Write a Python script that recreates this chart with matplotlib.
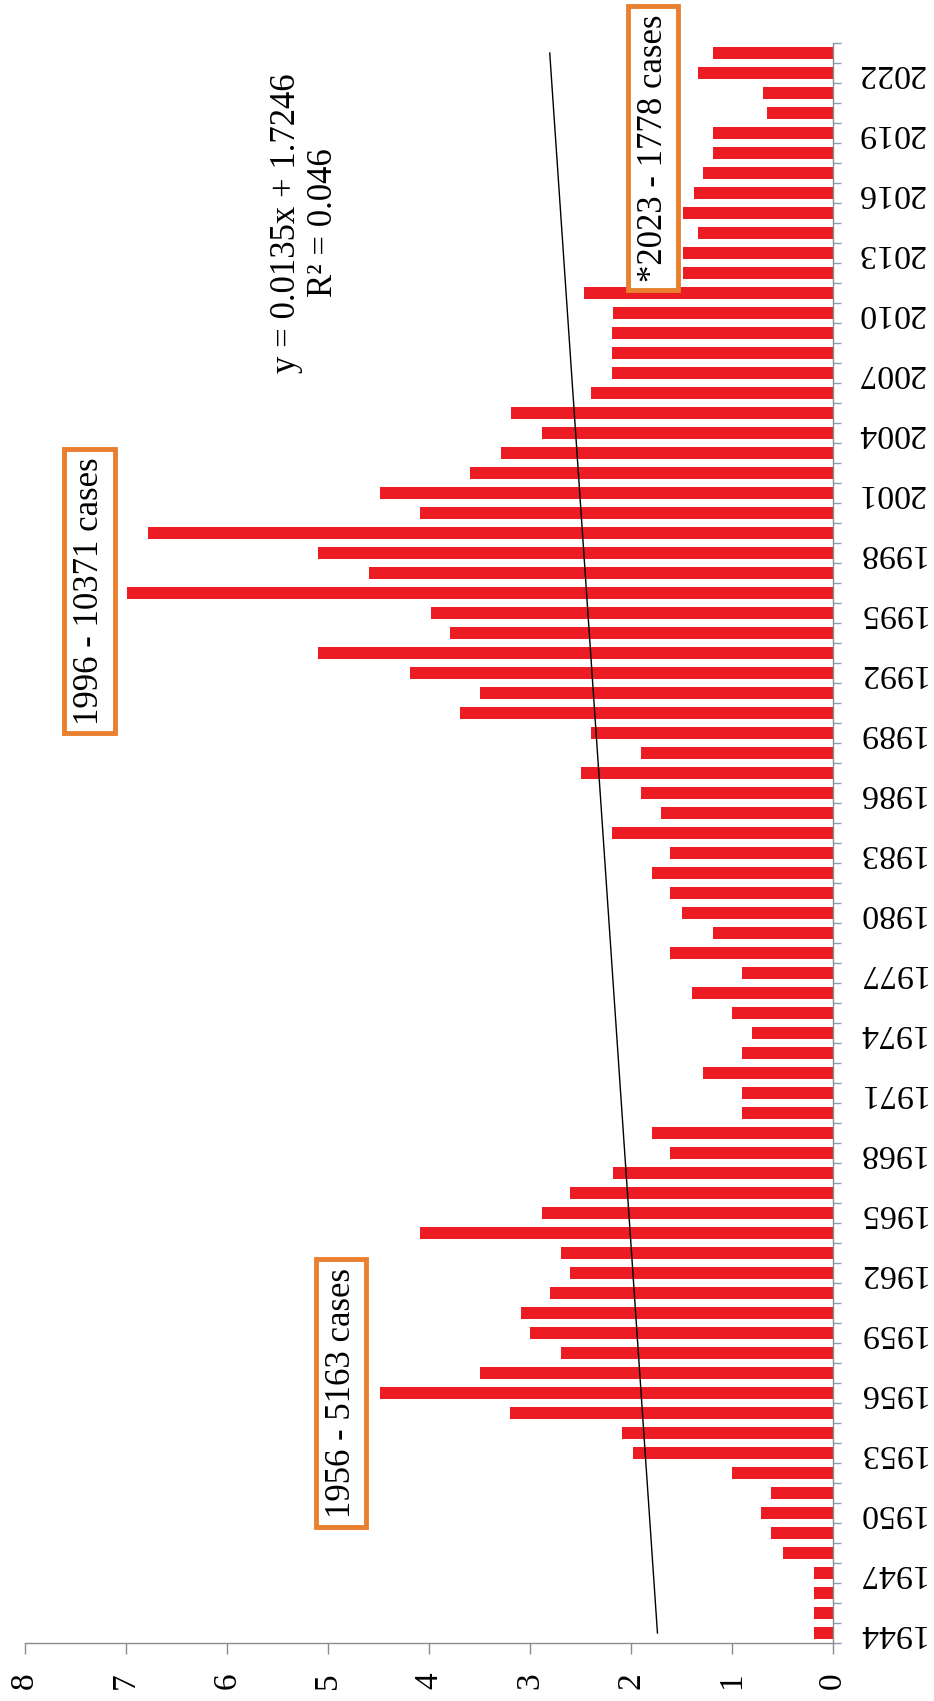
import matplotlib
matplotlib.use("Agg")
import matplotlib.pyplot as plt
from matplotlib import font_manager
from matplotlib.font_manager import FontProperties
import numpy as np

plt.rcParams['font.family'] = ['Liberation Serif', 'DejaVu Serif']
try:
    SERIF_PATH = font_manager.findfont(FontProperties(family='Liberation Serif'),
                                       fallback_to_default=False)
except Exception:
    SERIF_PATH = None


def fprop(size):
    if SERIF_PATH:
        return FontProperties(fname=SERIF_PATH, size=size)
    return FontProperties(family='serif', size=size)


# ---- data ----
years = list(range(1944, 2024))
values = [0.19, 0.19, 0.19, 0.19, 0.50, 0.61, 0.71, 0.61, 1.00, 1.98,
          2.09, 3.20, 4.49, 3.50, 2.69, 3.00, 3.09, 2.80, 2.60, 2.69,
          4.09, 2.88, 2.60, 2.18, 1.61, 1.79, 0.90, 0.90, 1.29, 0.90,
          0.80, 1.00, 1.40, 0.90, 1.61, 1.19, 1.50, 1.61, 1.79, 1.61,
          2.19, 1.70, 1.90, 2.50, 1.90, 2.40, 3.69, 3.50, 4.19, 5.10,
          3.79, 3.98, 6.99, 4.59, 5.10, 6.78, 4.09, 4.49, 3.59, 3.29,
          2.88, 3.19, 2.40, 2.19, 2.19, 2.19, 2.18, 2.47, 1.49, 1.49,
          1.34, 1.49, 1.38, 1.29, 1.19, 1.19, 0.65, 0.69, 1.34, 1.19]
label_years = list(range(1944, 2023, 3))
value_ticks = [0, 1, 2, 3, 4, 5, 6, 7, 8]
trend_slope = 0.0135
trend_intercept = 1.7246
equation_text = "y = 0.0135x + 1.7246\nR\u00b2 = 0.046"
annotations = [
    ("1956 - 5163 cases", 4.87, 1956.0),
    ("1996 - 10371 cases", 7.36, 1996.1),
    ("*2023 - 1778 cases", 1.78, 2018.25),
]

BAR_COLOR = '#EB1C24'
BOX_COLOR = '#E8802F'
AXIS_COLOR = '#8C8C8C'

W, H = 934, 1701
fig = plt.figure(figsize=(W / 100, H / 100), dpi=100)
ax = fig.add_axes([25 / W, 58 / H, 808 / W, 1600 / H])

ax.barh(years, values, height=0.6, color=BAR_COLOR, zorder=2)

# linear trendline
idx = np.arange(1, len(years) + 1)
trend = trend_slope * idx + trend_intercept
ax.plot(trend, years, color='black', lw=1.0, zorder=3)

ax.set_xlim(8, 0)
ax.set_ylim(years[0] - 0.5, years[-1] + 0.5)

# value axis (bottom)
ax.set_xticks(value_ticks)
ax.set_xticklabels([str(v) for v in value_ticks], rotation=90,
                   fontproperties=fprop(24))
ax.tick_params(axis='x', direction='out', length=8, width=1, color=AXIS_COLOR, pad=13)
for lab in ax.get_xticklabels():
    lab.set_va('top')
    lab.set_ha('center')

# year axis (right)
ax.yaxis.tick_right()
ax.set_yticks(label_years)
ax.set_yticklabels([str(y) for y in label_years], rotation=180,
                   fontproperties=fprop(24.5))
ax.set_yticks([y - 0.5 for y in years] + [years[-1] + 0.5], minor=True)
ax.tick_params(axis='y', which='major', length=0, pad=17)
ax.tick_params(axis='y', which='minor', direction='out', length=6, width=1, color='#8A9AB8')
for lab in ax.get_yticklabels():
    lab.set_va('center')

for s in ['left', 'top']:
    ax.spines[s].set_visible(False)
for s in ['bottom', 'right']:
    ax.spines[s].set_color(AXIS_COLOR)
    ax.spines[s].set_linewidth(1)

# annotations
for txt, xv, yv in annotations:
    ax.text(xv, yv, txt, rotation=90, ha='center', va='center',
            zorder=5, fontproperties=fprop(25),
            bbox=dict(boxstyle='square,pad=0.25', facecolor='white',
                      edgecolor=BOX_COLOR, linewidth=3.5))

ax.text(5.23, 2014.5, equation_text, rotation=90, ha='center',
        va='center', multialignment='center', linespacing=1.15, zorder=5,
        fontproperties=fprop(25))

fig.savefig('out.png', dpi=100)
